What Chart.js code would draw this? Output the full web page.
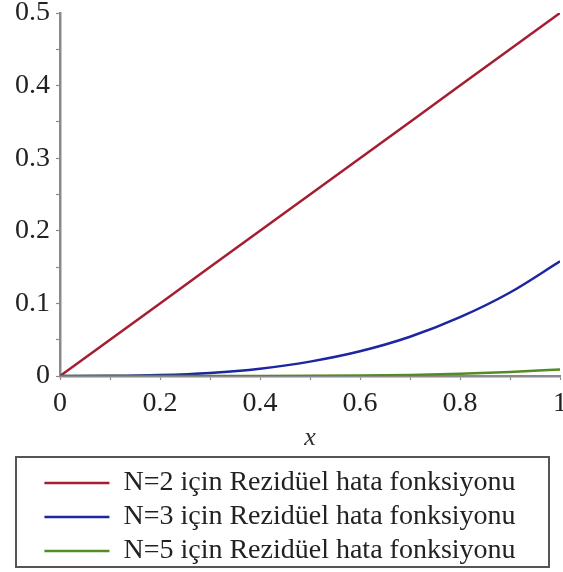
<!DOCTYPE html>
<html>
<head>
<meta charset="utf-8">
<script src="https://cdn.jsdelivr.net/npm/chart.js@4"></script>
<style>
  html, body { margin: 0; padding: 0; background: #fff; }
  #wrap { width: 563px; height: 572px; }
</style>
</head>
<body>
<div id="wrap"><canvas id="myChart" width="563" height="572"></canvas></div>
<script>
// values
const xValues = [0, 0.1, 0.2, 0.3, 0.4, 0.5, 0.6, 0.7, 0.8, 0.9, 1];
const residualN2 = [0, 0.05, 0.1, 0.15, 0.2, 0.25, 0.3, 0.35, 0.4, 0.45, 0.5];
const residualN3 = [0, 0.0002, 0.0013, 0.0043, 0.0101, 0.0198, 0.034, 0.054, 0.081, 0.115, 0.158];
const residualN5 = [0, 0, 0, 0, 0.0001, 0.0003, 0.0007, 0.0015, 0.003, 0.0055, 0.009];
const seriesLabels = [
  "N=2 için Rezidüel hata fonksiyonu",
  "N=3 için Rezidüel hata fonksiyonu",
  "N=5 için Rezidüel hata fonksiyonu",
];
const xTickLabels = ["0", "0.2", "0.4", "0.6", "0.8", "1"];
const yTickLabels = ["0", "0.1", "0.2", "0.3", "0.4", "0.5"];

const toPoints = (ys) => xValues.map((x, i) => ({ x: x, y: ys[i] }));

const serif = "'Liberation Serif', 'DejaVu Serif', serif";
const axisGray = "#8a8a8a";

// draws the frame round the legend
const legendBox = {
  id: "legendBox",
  afterDraw(chart) {
    const lg = chart.legend;
    if (!lg || !lg.legendHitBoxes.length) return;
    const boxes = lg.legendHitBoxes;
    const left = 16, right = 549;
    const top = boxes[0].top - 12;
    const bottom = boxes[boxes.length - 1].top + boxes[boxes.length - 1].height + 2;
    const ctx = chart.ctx;
    ctx.save();
    ctx.strokeStyle = "#555";
    ctx.lineWidth = 2;
    ctx.strokeRect(left, top, right - left, bottom - top);
    ctx.restore();
  },
};

const ctx = document.getElementById("myChart").getContext("2d");
const chart = new Chart(ctx, {
  type: "line",
  data: {
    datasets: [
      {
        label: seriesLabels[0],
        data: toPoints(residualN2),
        borderColor: "rgb(165, 30, 48)",
        borderWidth: 2.5,
        pointRadius: 0,
        order: 2,
      },
      {
        label: seriesLabels[1],
        data: toPoints(residualN3),
        borderColor: "rgb(28, 38, 160)",
        borderWidth: 2.5,
        pointRadius: 0,
        cubicInterpolationMode: "monotone",
        order: 1,
      },
      {
        label: seriesLabels[2],
        data: toPoints(residualN5),
        borderColor: "rgb(82, 140, 36)",
        borderWidth: 2.5,
        pointRadius: 0,
        cubicInterpolationMode: "monotone",
        order: 0,
      },
    ],
  },
  options: {
    responsive: false,
    animation: false,
    layout: { padding: { top: 0, right: 3, left: 0, bottom: -3 } },
    scales: {
      x: {
        type: "linear",
        min: 0,
        max: 1,
        border: { color: axisGray, width: 2.5 },
        grid: { drawOnChartArea: false, tickLength: 4, tickColor: axisGray, tickWidth: 1.2 },
        ticks: {
          stepSize: 0.1,
          autoSkip: false,
          maxRotation: 0,
          color: "#222",
          font: { family: serif, size: 28 },
          padding: 7,
          callback: (v) => {
            const i = Math.round(v * 10);
            return i % 2 === 0 ? xTickLabels[i / 2] : "";
          },
        },
        title: {
          display: true,
          text: "x",
          color: "#333",
          font: { family: serif, size: 26, style: "italic" },
          padding: { top: 0, bottom: 9 },
        },
        afterFit: (scale) => {
          scale.height = 87;
          scale.paddingLeft = 0;
          scale.paddingRight = 0;
        },
      },
      y: {
        min: 0,
        max: 0.5,
        border: { color: axisGray, width: 2.5 },
        grid: { drawOnChartArea: false, tickLength: 4, tickColor: axisGray, tickWidth: 1.2 },
        ticks: {
          stepSize: 0.05,
          autoSkip: false,
          color: "#222",
          font: { family: serif, size: 28 },
          padding: 6,
          callback: (v) => {
            const i = Math.round(v * 20);
            return i % 2 === 0 ? yTickLabels[i / 2] : "";
          },
        },
        afterFit: (scale) => {
          scale.width = 60;
          scale.paddingTop = 13;
          scale.paddingBottom = 0;
        },
      },
    },
    plugins: {
      legend: {
        position: "bottom",
        labels: {
          usePointStyle: true,
          pointStyle: "line",
          pointStyleWidth: 65,
          color: "#222",
          font: { family: serif, size: 28 },
          padding: 6,
          sort: (a, b) => a.datasetIndex - b.datasetIndex,
        },
      },
      tooltip: { enabled: false },
    },
  },
  plugins: [legendBox],
});
</script>
</body>
</html>
